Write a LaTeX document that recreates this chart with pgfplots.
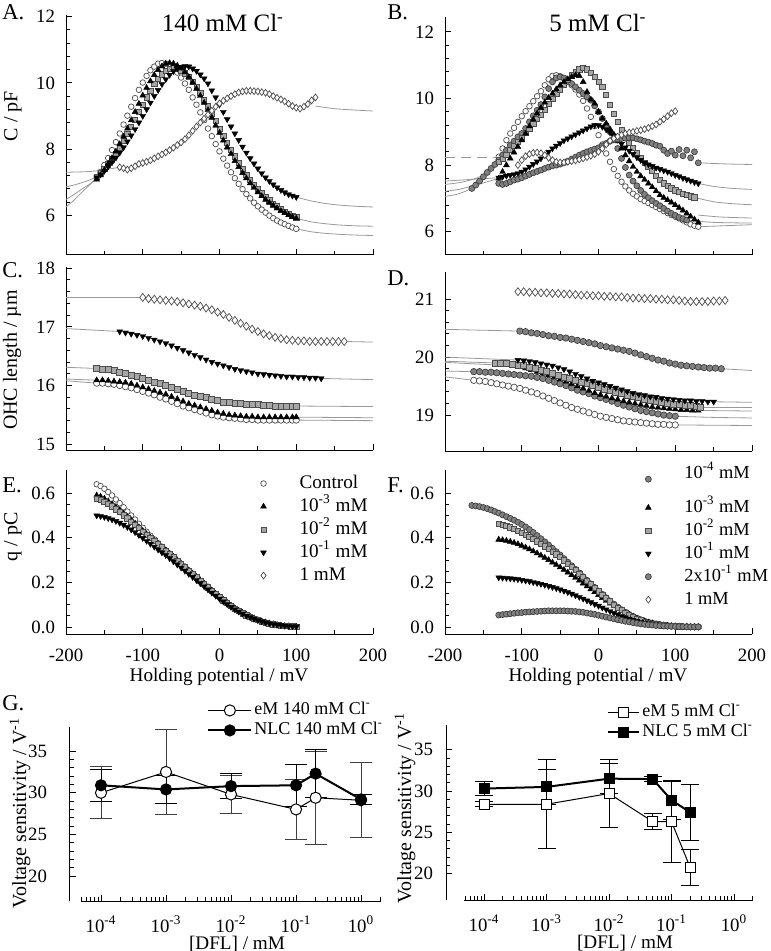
\documentclass[border=0pt]{standalone}
\usepackage{fontspec}
\setmainfont{Liberation Serif}
\usepackage{pgfplots}
\pgfplotsset{compat=1.18}
\pgfplotsset{
  base/.style={scale only axis, axis x line*=bottom, axis y line*=left,
    axis line style={-, line width=0.5pt}, tick align=inside,
    major tick length=3pt, minor tick length=1.8pt,
    tick style={black, line width=0.5pt},
    /pgf/number format/assume math mode=true,
    tick label style={font=\fontsize{9.4}{11}\selectfont},
    yticklabel style={xshift=-2pt}, clip=false},
  volt/.style={base, xmin=-200, xmax=200, xtick={-200,-100,0,100,200},
    minor x tick num=1, width=153.5pt},
  mk/.style={legend image code/.code={\draw[##1] plot coordinates {(6pt,0pt)}; \path[draw=none,fill=none] (0pt,0pt) (23pt,0pt);}},
  ctrl/.style={only marks, mark=*, mark size=1.4pt, mark options={fill=white, draw=black!70, line width=0.35pt}, mk},
  tri/.style={only marks, mark=triangle*, mark size=1.7pt, mark options={fill=black, draw=black, line width=0.2pt}, mk},
  sq/.style={only marks, mark=square*, mark size=1.3pt, mark options={fill=black!35, draw=black!70, line width=0.35pt}, mk},
  itri/.style={only marks, mark=triangle*, mark size=1.7pt, mark options={fill=black, draw=black, rotate=180, line width=0.2pt}, mk},
  dia/.style={only marks, mark=diamond*, mark size=1.7pt, mark options={fill=white, draw=black!70, line width=0.35pt}, mk},
  gc/.style={only marks, mark=*, mark size=1.5pt, mark options={fill=black!50, draw=black!75, line width=0.35pt}, mk},
  fit/.style={no markers, black!40, line width=0.4pt, smooth},
  mleg/.style={legend cell align=left,
    legend style={draw=none, fill=none, inner sep=0pt, row sep=0pt,
      nodes={inner sep=1pt, text height=7pt, text depth=2.5pt}}},
}
\begin{document}
\begin{tikzpicture}
\useasboundingbox (0,0) rectangle (385pt,-475.5pt);

% ---------------- A ----------------
\begin{axis}[volt, at={(33pt,-127.5pt)}, anchor=south west, height=120pt,
  ymin=4.8, ymax=12.05, ytick={6,8,10,12}, minor y tick num=4, xticklabels={}]
\addplot[fit] coordinates {(-200,6.25)(-190,6.45)(-180,6.68)(-170,6.9)(-160,7.13)};
\addplot[fit] coordinates {(-200,6.48)(-190,6.62)(-180,6.78)(-170,6.93)(-160,7.08)};
\addplot[fit] coordinates {(-200,6.86)(-190,6.91)(-180,6.98)(-170,7.06)(-160,7.16)};
\addplot[fit] coordinates {(-200,7.3)(-165,7.33)(-130,7.45)};
\addplot[fit] coordinates {(100,5.59)(120,5.5)(140,5.45)(160,5.42)(180,5.4)(200,5.39)};
\addplot[fit] coordinates {(100,5.91)(120,5.8)(140,5.74)(160,5.7)(180,5.68)(200,5.67)};
\addplot[fit] coordinates {(100,6.55)(120,6.43)(140,6.35)(160,6.3)(180,6.27)(200,6.25)};
\addplot[fit] coordinates {(125,9.3)(150,9.22)(175,9.18)(200,9.15)};
\addplot[ctrl] coordinates {(-160,7.13)(-155,7.31)(-150,7.52)(-145,7.73)(-140,7.97)(-135,8.21)(-130,8.47)(-125,8.74)(-120,9.01)(-115,9.28)(-110,9.54)(-105,9.79)(-100,10.01)(-95,10.21)(-90,10.38)(-85,10.49)(-80,10.58)(-75,10.60)(-70,10.58)(-65,10.52)(-60,10.43)(-55,10.31)(-50,10.16)(-45,9.98)(-40,9.79)(-35,9.56)(-30,9.34)(-25,9.11)(-20,8.87)(-15,8.62)(-10,8.39)(-5,8.15)(0,7.93)(5,7.71)(10,7.50)(15,7.30)(20,7.12)(25,6.95)(30,6.79)(35,6.64)(40,6.51)(45,6.38)(50,6.27)(55,6.17)(60,6.08)(65,5.99)(70,5.91)(75,5.84)(80,5.78)(85,5.73)(90,5.68)(95,5.63)(100,5.59)};
\addplot[sq] coordinates {(-160,7.16)(-155,7.27)(-150,7.40)(-145,7.54)(-140,7.69)(-135,7.86)(-130,8.04)(-125,8.24)(-120,8.45)(-115,8.67)(-110,8.89)(-105,9.12)(-100,9.34)(-95,9.56)(-90,9.77)(-85,9.96)(-80,10.12)(-75,10.26)(-70,10.36)(-65,10.43)(-60,10.45)(-55,10.44)(-50,10.38)(-45,10.29)(-40,10.18)(-35,10.04)(-30,9.88)(-25,9.70)(-20,9.49)(-15,9.29)(-10,9.07)(-5,8.85)(0,8.62)(5,8.40)(10,8.18)(15,7.98)(20,7.78)(25,7.58)(30,7.40)(35,7.23)(40,7.07)(45,6.93)(50,6.79)(55,6.66)(60,6.55)(65,6.45)(70,6.35)(75,6.27)(80,6.19)(85,6.11)(90,6.05)(95,5.99)(100,5.94)};
\addplot[tri] coordinates {(-160,7.08)(-155,7.21)(-150,7.37)(-145,7.55)(-140,7.73)(-135,7.93)(-130,8.15)(-125,8.38)(-120,8.62)(-115,8.87)(-110,9.12)(-105,9.37)(-100,9.62)(-95,9.85)(-90,10.05)(-85,10.24)(-80,10.39)(-75,10.50)(-70,10.58)(-65,10.60)(-60,10.58)(-55,10.52)(-50,10.44)(-45,10.32)(-40,10.18)(-35,10.01)(-30,9.82)(-25,9.61)(-20,9.40)(-15,9.18)(-10,8.95)(-5,8.71)(0,8.49)(5,8.26)(10,8.05)(15,7.85)(20,7.64)(25,7.46)(30,7.28)(35,7.12)(40,6.97)(45,6.83)(50,6.70)(55,6.58)(60,6.47)(65,6.38)(70,6.29)(75,6.21)(80,6.13)(85,6.07)(90,6.01)(95,5.95)(100,5.91)};
\addplot[itri] coordinates {(-160,7.14)(-155,7.23)(-150,7.34)(-145,7.47)(-140,7.60)(-135,7.74)(-130,7.89)(-125,8.05)(-120,8.23)(-115,8.41)(-110,8.60)(-105,8.80)(-100,9.00)(-95,9.20)(-90,9.40)(-85,9.60)(-80,9.78)(-75,9.96)(-70,10.11)(-65,10.24)(-60,10.35)(-55,10.43)(-50,10.48)(-45,10.50)(-40,10.49)(-35,10.43)(-30,10.36)(-25,10.25)(-20,10.13)(-15,9.98)(-10,9.77)(-5,9.56)(0,9.34)(5,9.12)(10,8.90)(15,8.68)(20,8.47)(25,8.27)(30,8.07)(35,7.89)(40,7.72)(45,7.56)(50,7.41)(55,7.27)(60,7.14)(65,7.03)(70,6.93)(75,6.84)(80,6.76)(85,6.69)(90,6.63)(95,6.59)(100,6.55)};
\addplot[dia] coordinates {(-130,7.45)(-125,7.42)(-120,7.38)(-115,7.42)(-110,7.48)(-105,7.55)(-100,7.58)(-95,7.62)(-90,7.66)(-85,7.72)(-80,7.78)(-75,7.84)(-70,7.9)(-65,7.97)(-60,8.04)(-55,8.12)(-50,8.2)(-45,8.3)(-40,8.42)(-35,8.55)(-30,8.68)(-25,8.8)(-20,8.92)(-15,9.04)(-10,9.16)(-5,9.28)(0,9.38)(5,9.46)(10,9.53)(15,9.6)(20,9.66)(25,9.71)(30,9.74)(35,9.76)(40,9.76)(45,9.75)(50,9.74)(55,9.72)(60,9.7)(65,9.66)(70,9.6)(75,9.55)(80,9.5)(85,9.44)(90,9.37)(95,9.3)(100,9.25)(105,9.22)(110,9.28)(115,9.36)(120,9.47)(125,9.56)};
\end{axis}

% ---------------- B ----------------
\begin{axis}[volt, at={(222.5pt,-127.5pt)}, anchor=south west, height=119pt,
  ymin=5.3, ymax=12.45, ytick={6,8,10,12}, minor y tick num=4, xticklabels={}]
\addplot[fit, dash pattern=on 5pt off 3pt] coordinates {(-200,8.22)(-130,8.22)};
\addplot[fit] coordinates {(-200,7.06)(-185,7.12)(-175,7.2)(-165,7.3)};
\addplot[fit] coordinates {(-200,7.21)(-180,7.28)(-160,7.4)(-145,7.5)(-130,7.6)};
\addplot[fit] coordinates {(-200,7.42)(-180,7.48)(-160,7.6)(-145,7.78)(-130,8.1)};
\addplot[fit] coordinates {(-200,7.52)(-180,7.55)(-160,7.58)(-130,7.62)};
\addplot[fit] coordinates {(130,8.07)(150,8.05)(175,8.03)(200,8.02)};
\addplot[fit] coordinates {(130,7.45)(150,7.36)(175,7.3)(200,7.27)};
\addplot[fit] coordinates {(125,7.03)(150,6.9)(175,6.84)(200,6.81)};
\addplot[fit] coordinates {(130,6.5)(160,6.44)(200,6.41)};
\addplot[fit] coordinates {(115,6.35)(150,6.28)(200,6.26)};
\addplot[fit] coordinates {(130,6.15)(165,6.18)(200,6.21)};
\addplot[ctrl] coordinates {(-130,8.25)(-125,8.5)(-120,8.75)(-115,8.95)(-110,9.12)(-105,9.3)(-100,9.47)(-95,9.62)(-90,9.77)(-85,9.92)(-80,10.07)(-75,10.22)(-70,10.4)(-65,10.58)(-60,10.68)(-55,10.7)(-50,10.67)(-45,10.6)(-40,10.5)(-35,10.4)(-30,10.27)(-25,10.12)(-20,9.93)(-15,9.7)(-10,9.45)(-5,9.17)(0,8.9)(5,8.62)(10,8.35)(15,8.1)(20,7.88)(25,7.68)(30,7.5)(35,7.36)(40,7.24)(45,7.14)(50,7.06)(55,6.98)(60,6.92)(65,6.86)(70,6.8)(75,6.74)(80,6.68)(85,6.62)(90,6.56)(95,6.5)(100,6.45)(105,6.4)(110,6.34)(115,6.28)(120,6.22)(125,6.18)(130,6.15)};
\addplot[gc] coordinates {(-165,7.3)(-160,7.4)(-155,7.52)(-150,7.65)(-145,7.78)(-140,7.9)(-135,8.02)(-130,8.15)(-125,8.3)(-120,8.45)(-115,8.6)(-110,8.72)(-105,8.85)(-100,8.95)(-95,9.1)(-90,9.3)(-85,9.48)(-80,9.65)(-75,9.82)(-70,10.05)(-65,10.3)(-60,10.5)(-55,10.62)(-50,10.65)(-45,10.62)(-40,10.55)(-35,10.45)(-30,10.35)(-25,10.25)(-20,10.15)(-15,10.05)(-10,9.95)(-5,9.78)(0,9.6)(5,9.4)(10,9.2)(15,9.0)(20,8.78)(25,8.5)(30,8.2)(35,7.93)(40,7.7)(45,7.52)(50,7.38)(55,7.24)(60,7.12)(65,7.02)(70,6.93)(75,6.85)(80,6.78)(85,6.7)(90,6.62)(95,6.55)(100,6.49)(105,6.43)(110,6.39)(115,6.35)};
\addplot[sq] coordinates {(-130,8.1)(-125,8.2)(-120,8.32)(-115,8.45)(-110,8.58)(-105,8.7)(-100,8.83)(-95,8.97)(-90,9.1)(-85,9.24)(-80,9.38)(-75,9.52)(-70,9.67)(-65,9.83)(-60,9.98)(-55,10.13)(-50,10.27)(-45,10.42)(-40,10.57)(-35,10.7)(-30,10.8)(-25,10.88)(-20,10.92)(-15,10.88)(-10,10.78)(-5,10.65)(0,10.5)(5,10.35)(10,10.1)(15,9.82)(20,9.55)(25,9.3)(30,9.05)(35,8.85)(40,8.68)(45,8.52)(50,8.37)(55,8.22)(60,8.08)(65,7.95)(70,7.82)(75,7.68)(80,7.55)(85,7.45)(90,7.37)(95,7.3)(100,7.24)(105,7.19)(110,7.14)(115,7.1)(120,7.06)(125,7.03)};
\addplot[tri] coordinates {(-130,7.6)(-125,7.8)(-120,8.0)(-115,8.2)(-110,8.38)(-105,8.55)(-100,8.75)(-95,8.95)(-90,9.17)(-85,9.37)(-80,9.55)(-75,9.72)(-70,9.88)(-65,10.02)(-60,10.15)(-55,10.28)(-50,10.4)(-45,10.5)(-40,10.58)(-35,10.65)(-30,10.7)(-25,10.68)(-20,10.5)(-15,10.2)(-10,9.97)(-5,9.85)(0,9.6)(5,9.4)(10,9.25)(15,9.08)(20,8.92)(25,8.72)(30,8.5)(35,8.3)(40,8.12)(45,7.95)(50,7.8)(55,7.67)(60,7.56)(65,7.45)(70,7.34)(75,7.22)(80,7.1)(85,7.02)(90,6.95)(95,6.88)(100,6.8)(105,6.72)(110,6.64)(115,6.55)(120,6.46)(125,6.37)(130,6.28)};
\addplot[itri] coordinates {(-130,7.62)(-125,7.65)(-120,7.68)(-115,7.7)(-110,7.72)(-105,7.75)(-100,7.8)(-95,7.87)(-90,7.95)(-85,8.03)(-80,8.11)(-75,8.2)(-70,8.3)(-65,8.4)(-60,8.5)(-55,8.58)(-50,8.66)(-45,8.74)(-40,8.8)(-35,8.86)(-30,8.92)(-25,8.98)(-20,9.04)(-15,9.1)(-10,9.16)(-5,9.2)(0,9.2)(5,9.15)(10,9.07)(15,8.98)(20,8.88)(25,8.76)(30,8.64)(35,8.53)(40,8.43)(45,8.33)(50,8.23)(55,8.15)(60,8.07)(65,8.02)(70,7.97)(75,7.92)(80,7.88)(85,7.84)(90,7.8)(95,7.75)(100,7.7)(105,7.66)(110,7.61)(115,7.57)(120,7.53)(125,7.49)(130,7.45)};
\addplot[gc] coordinates {(-130,7.45)(-125,7.42)(-120,7.45)(-115,7.5)(-110,7.55)(-105,7.58)(-100,7.62)(-95,7.67)(-90,7.72)(-85,7.77)(-80,7.81)(-75,7.85)(-70,7.9)(-65,7.94)(-60,7.98)(-55,8.0)(-50,8.03)(-45,8.07)(-40,8.12)(-35,8.18)(-30,8.24)(-25,8.3)(-20,8.35)(-15,8.4)(-10,8.44)(-5,8.48)(0,8.52)(5,8.58)(10,8.65)(15,8.72)(20,8.76)(25,8.78)(30,8.8)(35,8.81)(40,8.82)(45,8.82)(50,8.79)(55,8.76)(60,8.72)(65,8.69)(70,8.65)(75,8.6)(80,8.57)(85,8.45)(90,8.35)(95,8.42)(100,8.3)(105,8.47)(110,8.28)(115,8.45)(120,8.22)(125,8.4)(130,8.07)};
\addplot[dia] coordinates {(-105,8.0)(-100,8.15)(-95,8.27)(-90,8.33)(-85,8.37)(-80,8.38)(-75,8.36)(-70,8.3)(-65,8.22)(-60,8.15)(-55,8.1)(-50,8.08)(-45,8.08)(-40,8.1)(-35,8.12)(-30,8.14)(-25,8.17)(-20,8.2)(-15,8.24)(-10,8.28)(-5,8.33)(0,8.4)(5,8.5)(10,8.62)(15,8.73)(20,8.8)(25,8.86)(30,8.91)(35,8.95)(40,8.98)(45,9.0)(50,9.03)(55,9.05)(60,9.08)(65,9.12)(70,9.17)(75,9.22)(80,9.3)(85,9.38)(90,9.47)(95,9.56)(100,9.62)};
\end{axis}

% ---------------- C ----------------
\begin{axis}[volt, at={(33pt,-225pt)}, anchor=south west, height=91.5pt,
  ymin=14.9, ymax=18.02, ytick={15,16,17,18}, minor y tick num=4, xticklabels={}]
\addplot[fit] coordinates {(-200,17.5)(-100,17.5)};
\addplot[fit] coordinates {(162.5,16.75)(200,16.74)};
\addplot[fit] coordinates {(-200,16.97)(-130,16.92)};
\addplot[fit] coordinates {(132.5,16.12)(200,16.1)};
\addplot[fit] coordinates {(-200,16.31)(-160,16.29)};
\addplot[fit] coordinates {(100,15.65)(200,15.64)};
\addplot[fit] coordinates {(-200,16.11)(-160,16.09)};
\addplot[fit] coordinates {(100,15.46)(200,15.45)};
\addplot[fit] coordinates {(-200,16.08)(-160,16.04)};
\addplot[fit] coordinates {(100,15.41)(200,15.4)};
\addplot[ctrl, mark size=1.6pt] coordinates {(-160,16.04)(-152.5,16.04)(-145,16.03)(-137.5,16.02)(-130,16.0)(-122.5,15.98)(-115,15.96)(-107.5,15.93)(-100,15.9)(-92.5,15.87)(-85,15.84)(-77.5,15.8)(-70,15.77)(-62.5,15.73)(-55,15.69)(-47.5,15.65)(-40,15.62)(-32.5,15.59)(-25,15.56)(-17.5,15.53)(-10,15.5)(-2.5,15.48)(5,15.46)(12.5,15.45)(20,15.44)(27.5,15.43)(35,15.42)(42.5,15.42)(50,15.41)(57.5,15.41)(65,15.41)(72.5,15.41)(80,15.41)(87.5,15.41)(95,15.41)(100,15.41)};
\addplot[tri] coordinates {(-160,16.09)(-152.5,16.09)(-145,16.08)(-137.5,16.07)(-130,16.06)(-122.5,16.05)(-115,16.03)(-107.5,16.0)(-100,15.97)(-92.5,15.94)(-85,15.91)(-77.5,15.88)(-70,15.85)(-62.5,15.81)(-55,15.77)(-47.5,15.73)(-40,15.69)(-32.5,15.66)(-25,15.63)(-17.5,15.6)(-10,15.57)(-2.5,15.54)(5,15.52)(12.5,15.5)(20,15.49)(27.5,15.48)(35,15.47)(42.5,15.47)(50,15.46)(57.5,15.46)(65,15.46)(72.5,15.46)(80,15.46)(87.5,15.46)(95,15.46)(100,15.46)};
\addplot[sq, mark size=1.5pt] coordinates {(-160,16.29)(-152.5,16.28)(-145,16.27)(-137.5,16.25)(-130,16.23)(-122.5,16.21)(-115,16.18)(-107.5,16.15)(-100,16.12)(-92.5,16.09)(-85,16.06)(-77.5,16.03)(-70,16.0)(-62.5,15.97)(-55,15.94)(-47.5,15.9)(-40,15.87)(-32.5,15.84)(-25,15.81)(-17.5,15.79)(-10,15.76)(-2.5,15.74)(5,15.72)(12.5,15.71)(20,15.7)(27.5,15.69)(35,15.68)(42.5,15.67)(50,15.67)(57.5,15.66)(65,15.66)(72.5,15.65)(80,15.65)(87.5,15.65)(95,15.65)(100,15.65)};
\addplot[itri] coordinates {(-130,16.92)(-122.5,16.9)(-115,16.88)(-107.5,16.86)(-100,16.84)(-92.5,16.81)(-85,16.78)(-77.5,16.75)(-70,16.72)(-62.5,16.68)(-55,16.64)(-47.5,16.6)(-40,16.56)(-32.5,16.52)(-25,16.48)(-17.5,16.44)(-10,16.4)(-2.5,16.37)(5,16.34)(12.5,16.31)(20,16.28)(27.5,16.26)(35,16.24)(42.5,16.22)(50,16.2)(57.5,16.19)(65,16.18)(72.5,16.17)(80,16.16)(87.5,16.15)(95,16.15)(102.5,16.14)(110,16.14)(117.5,16.13)(125,16.13)(132.5,16.12)};
\addplot[dia, mark size=2pt] coordinates {(-100,17.5)(-92.5,17.48)(-85,17.47)(-77.5,17.46)(-70,17.45)(-62.5,17.44)(-55,17.43)(-47.5,17.41)(-40,17.39)(-32.5,17.37)(-25,17.35)(-17.5,17.32)(-10,17.29)(-2.5,17.25)(5,17.21)(12.5,17.16)(20,17.11)(27.5,17.06)(35,17.01)(42.5,16.96)(50,16.92)(57.5,16.88)(65,16.85)(72.5,16.82)(80,16.8)(87.5,16.78)(95,16.77)(102.5,16.76)(110,16.76)(117.5,16.75)(125,16.75)(132.5,16.75)(140,16.75)(147.5,16.75)(155,16.75)(162.5,16.75)};
\end{axis}

% ---------------- D ----------------
\begin{axis}[volt, at={(222.5pt,-225.5pt)}, anchor=south west, height=89.5pt,
  ymin=18.38, ymax=21.47, ytick={19,20,21}, minor y tick num=4, xticklabels={}]
\addplot[fit] coordinates {(-200,20.48)(-102.5,20.45)};
\addplot[fit] coordinates {(160,19.8)(200,19.77)};
\addplot[fit] coordinates {(-200,20.0)(-105,19.95)};
\addplot[fit] coordinates {(150,19.23)(200,19.22)};
\addplot[fit] coordinates {(-200,19.93)(-135,19.9)};
\addplot[fit] coordinates {(132.5,19.14)(200,19.14)};
\addplot[fit] coordinates {(-200,19.91)(-110,19.85)};
\addplot[fit] coordinates {(130,19.08)(200,19.07)};
\addplot[fit] coordinates {(-200,19.76)(-162.5,19.75)};
\addplot[fit] coordinates {(100,18.98)(150,18.96)(200,18.95)};
\addplot[fit] coordinates {(-200,19.66)(-162.5,19.6)};
\addplot[fit] coordinates {(100,18.83)(200,18.82)};
\addplot[ctrl, mark size=1.6pt] coordinates {(-162.5,19.6)(-155,19.59)(-147.5,19.58)(-140,19.56)(-132.5,19.54)(-125,19.52)(-117.5,19.5)(-110,19.48)(-102.5,19.46)(-95,19.43)(-87.5,19.4)(-80,19.37)(-72.5,19.33)(-65,19.29)(-57.5,19.25)(-50,19.21)(-42.5,19.17)(-35,19.13)(-27.5,19.1)(-20,19.07)(-12.5,19.04)(-5,19.01)(2.5,18.98)(10,18.96)(17.5,18.94)(25,18.92)(32.5,18.9)(40,18.89)(47.5,18.88)(55,18.87)(62.5,18.86)(70,18.85)(77.5,18.84)(85,18.84)(92.5,18.83)(100,18.83)};
\addplot[gc, mark size=1.6pt] coordinates {(-162.5,19.75)(-155,19.75)(-147.5,19.74)(-140,19.74)(-132.5,19.73)(-125,19.72)(-117.5,19.71)(-110,19.7)(-102.5,19.69)(-95,19.68)(-87.5,19.67)(-80,19.65)(-72.5,19.63)(-65,19.6)(-57.5,19.57)(-50,19.54)(-42.5,19.51)(-35,19.47)(-27.5,19.43)(-20,19.4)(-12.5,19.37)(-5,19.33)(2.5,19.3)(10,19.27)(17.5,19.24)(25,19.2)(32.5,19.17)(40,19.14)(47.5,19.11)(55,19.08)(62.5,19.06)(70,19.04)(77.5,19.02)(85,19.0)(92.5,18.99)(100,18.98)};
\addplot[tri] coordinates {(-110,19.85)(-102.5,19.83)(-95,19.81)(-87.5,19.78)(-80,19.75)(-72.5,19.72)(-65,19.69)(-57.5,19.66)(-50,19.62)(-42.5,19.58)(-35,19.54)(-27.5,19.5)(-20,19.46)(-12.5,19.42)(-5,19.38)(2.5,19.35)(10,19.32)(17.5,19.29)(25,19.27)(32.5,19.24)(40,19.22)(47.5,19.2)(55,19.18)(62.5,19.16)(70,19.14)(77.5,19.13)(85,19.12)(92.5,19.11)(100,19.1)(107.5,19.09)(115,19.09)(122.5,19.08)(130,19.08)};
\addplot[sq, mark size=1.5pt] coordinates {(-135,19.9)(-127.5,19.9)(-120,19.89)(-112.5,19.88)(-105,19.86)(-97.5,19.85)(-90,19.83)(-82.5,19.81)(-75,19.78)(-67.5,19.75)(-60,19.72)(-52.5,19.69)(-45,19.66)(-37.5,19.63)(-30,19.6)(-22.5,19.57)(-15,19.54)(-7.5,19.51)(0,19.48)(7.5,19.45)(15,19.42)(22.5,19.39)(30,19.37)(37.5,19.34)(45,19.32)(52.5,19.3)(60,19.28)(67.5,19.26)(75,19.24)(82.5,19.22)(90,19.2)(97.5,19.19)(105,19.18)(112.5,19.17)(120,19.16)(127.5,19.15)(132.5,19.14)};
\addplot[itri] coordinates {(-105,19.95)(-97.5,19.94)(-90,19.93)(-82.5,19.91)(-75,19.89)(-67.5,19.87)(-60,19.85)(-52.5,19.82)(-45,19.79)(-37.5,19.75)(-30,19.71)(-22.5,19.67)(-15,19.63)(-7.5,19.59)(0,19.56)(7.5,19.53)(15,19.5)(22.5,19.47)(30,19.44)(37.5,19.41)(45,19.38)(52.5,19.36)(60,19.34)(67.5,19.32)(75,19.31)(82.5,19.29)(90,19.28)(97.5,19.27)(105,19.26)(112.5,19.25)(120,19.25)(127.5,19.24)(135,19.24)(142.5,19.23)(150,19.23)};
\addplot[gc, mark size=1.6pt] coordinates {(-102.5,20.45)(-95,20.44)(-87.5,20.42)(-80,20.41)(-72.5,20.39)(-65,20.37)(-57.5,20.36)(-50,20.34)(-42.5,20.33)(-35,20.31)(-27.5,20.29)(-20,20.27)(-12.5,20.25)(-5,20.23)(2.5,20.2)(10,20.18)(17.5,20.16)(25,20.14)(32.5,20.12)(40,20.1)(47.5,20.07)(55,20.04)(62.5,20.01)(70,19.98)(77.5,19.95)(85,19.93)(92.5,19.9)(100,19.88)(107.5,19.86)(115,19.85)(122.5,19.84)(130,19.83)(137.5,19.82)(145,19.81)(152.5,19.81)(160,19.8)};
\addplot[dia, mark size=2pt] coordinates {(-105,21.13)(-97.5,21.13)(-90,21.12)(-82.5,21.12)(-75,21.11)(-67.5,21.11)(-60,21.1)(-52.5,21.1)(-45,21.09)(-37.5,21.09)(-30,21.08)(-22.5,21.07)(-15,21.07)(-7.5,21.06)(0,21.06)(7.5,21.05)(15,21.05)(22.5,21.04)(30,21.04)(37.5,21.03)(45,21.02)(52.5,21.02)(60,21.01)(67.5,21.01)(75,21.0)(82.5,21.0)(90,20.99)(97.5,20.99)(105,20.98)(112.5,20.97)(120,20.96)(127.5,20.96)(135,20.96)(142.5,20.96)(150,20.97)(157.5,20.97)(165,20.98)};
\end{axis}

% ---------------- E ----------------
\begin{axis}[volt, mleg, at={(33pt,-317pt)}, anchor=south west, height=82pt,
  ymin=-0.031, ymax=0.704, ytick={0,0.2,0.4,0.6}, minor y tick num=3,
  yticklabel style={/pgf/number format/.cd, fixed, fixed zerofill, precision=1},
  xticklabel style={yshift=-4pt},
  legend style={at={(0.603,0.99)}, anchor=north west, font=\fontsize{9.6}{11}\selectfont}]
\addplot[ctrl] coordinates {(-160,0.64)(-155,0.632)(-150,0.62)(-145,0.605)(-140,0.59)(-135,0.572)(-130,0.555)(-125,0.537)(-120,0.518)(-115,0.5)(-110,0.482)(-105,0.463)(-100,0.445)(-95,0.427)(-90,0.41)(-85,0.393)(-80,0.376)(-75,0.36)(-70,0.344)(-65,0.328)(-60,0.312)(-55,0.296)(-50,0.28)(-45,0.265)(-40,0.25)(-35,0.235)(-30,0.22)(-25,0.205)(-20,0.19)(-15,0.175)(-10,0.16)(-5,0.146)(0,0.132)(5,0.118)(10,0.105)(15,0.093)(20,0.082)(25,0.071)(30,0.061)(35,0.052)(40,0.044)(45,0.037)(50,0.031)(55,0.025)(60,0.02)(65,0.016)(70,0.012)(75,0.009)(80,0.007)(85,0.005)(90,0.003)(95,0.002)(100,0.001)};
\addlegendentry{Control}
\addplot[tri] coordinates {(-160,0.59)(-155,0.585)(-150,0.576)(-145,0.564)(-140,0.552)(-135,0.538)(-130,0.524)(-125,0.509)(-120,0.494)(-115,0.479)(-110,0.464)(-105,0.448)(-100,0.432)(-95,0.417)(-90,0.402)(-85,0.387)(-80,0.372)(-75,0.358)(-70,0.345)(-65,0.33)(-60,0.315)(-55,0.3)(-50,0.285)(-45,0.27)(-40,0.255)(-35,0.24)(-30,0.225)(-25,0.21)(-20,0.195)(-15,0.18)(-10,0.165)(-5,0.15)(0,0.136)(5,0.122)(10,0.109)(15,0.097)(20,0.085)(25,0.074)(30,0.064)(35,0.055)(40,0.046)(45,0.039)(50,0.032)(55,0.026)(60,0.021)(65,0.017)(70,0.013)(75,0.01)(80,0.007)(85,0.005)(90,0.004)(95,0.003)(100,0.002)};
\addlegendentry{10\textsuperscript{-3} mM}
\addplot[sq] coordinates {(-160,0.575)(-155,0.57)(-150,0.562)(-145,0.552)(-140,0.541)(-135,0.528)(-130,0.515)(-125,0.501)(-120,0.487)(-115,0.473)(-110,0.458)(-105,0.443)(-100,0.428)(-95,0.413)(-90,0.399)(-85,0.385)(-80,0.371)(-75,0.357)(-70,0.343)(-65,0.328)(-60,0.313)(-55,0.298)(-50,0.283)(-45,0.268)(-40,0.253)(-35,0.238)(-30,0.223)(-25,0.208)(-20,0.193)(-15,0.178)(-10,0.163)(-5,0.148)(0,0.134)(5,0.12)(10,0.107)(15,0.095)(20,0.083)(25,0.072)(30,0.062)(35,0.053)(40,0.045)(45,0.038)(50,0.031)(55,0.025)(60,0.02)(65,0.016)(70,0.012)(75,0.009)(80,0.007)(85,0.005)(90,0.004)(95,0.003)(100,0.002)};
\addlegendentry{10\textsuperscript{-2} mM}
\addplot[itri] coordinates {(-160,0.5)(-155,0.497)(-150,0.493)(-145,0.488)(-140,0.482)(-135,0.475)(-130,0.467)(-125,0.458)(-120,0.448)(-115,0.437)(-110,0.425)(-105,0.412)(-100,0.399)(-95,0.386)(-90,0.373)(-85,0.36)(-80,0.347)(-75,0.334)(-70,0.322)(-65,0.308)(-60,0.294)(-55,0.28)(-50,0.266)(-45,0.252)(-40,0.238)(-35,0.224)(-30,0.21)(-25,0.196)(-20,0.182)(-15,0.168)(-10,0.154)(-5,0.14)(0,0.127)(5,0.114)(10,0.102)(15,0.09)(20,0.079)(25,0.069)(30,0.06)(35,0.051)(40,0.044)(45,0.037)(50,0.031)(55,0.025)(60,0.02)(65,0.016)(70,0.013)(75,0.01)(80,0.008)(85,0.006)(90,0.004)(95,0.003)(100,0.002)};
\addlegendentry{10\textsuperscript{-1} mM}
\addlegendimage{dia}
\addlegendentry{1 mM}
\end{axis}

% ---------------- F ----------------
\begin{axis}[volt, mleg, at={(222.5pt,-317pt)}, anchor=south west, height=82pt,
  ymin=-0.031, ymax=0.704, ytick={0,0.2,0.4,0.6}, minor y tick num=3,
  yticklabel style={/pgf/number format/.cd, fixed, fixed zerofill, precision=1},
  xticklabel style={yshift=-4pt},
  legend style={at={(0.622,1.05)}, anchor=north west, font=\fontsize{9.2}{11}\selectfont}]
\addplot[gc] coordinates {(-165,0.545)(-160,0.543)(-155,0.54)(-150,0.536)(-145,0.531)(-140,0.525)(-135,0.518)(-130,0.511)(-125,0.503)(-120,0.495)(-115,0.487)(-110,0.479)(-105,0.47)(-100,0.46)(-95,0.449)(-90,0.437)(-85,0.424)(-80,0.41)(-75,0.396)(-70,0.382)(-65,0.368)(-60,0.353)(-55,0.338)(-50,0.323)(-45,0.307)(-40,0.291)(-35,0.275)(-30,0.259)(-25,0.243)(-20,0.226)(-15,0.21)(-10,0.194)(-5,0.178)(0,0.162)(5,0.147)(10,0.132)(15,0.117)(20,0.103)(25,0.09)(30,0.078)(35,0.067)(40,0.057)(45,0.048)(50,0.04)(55,0.033)(60,0.027)(65,0.022)(70,0.018)(75,0.014)(80,0.011)(85,0.009)(90,0.007)(95,0.005)(100,0.004)(105,0.003)(110,0.002)(115,0.002)(120,0.001)(125,0.001)(130,0.001)};
\addlegendentry[text depth=8pt]{10\textsuperscript{-4} mM}
\addplot[tri] coordinates {(-130,0.392)(-125,0.39)(-120,0.387)(-115,0.383)(-110,0.378)(-105,0.372)(-100,0.365)(-95,0.357)(-90,0.349)(-85,0.34)(-80,0.331)(-75,0.321)(-70,0.311)(-65,0.301)(-60,0.29)(-55,0.279)(-50,0.268)(-45,0.257)(-40,0.245)(-35,0.233)(-30,0.221)(-25,0.209)(-20,0.196)(-15,0.183)(-10,0.17)(-5,0.157)(0,0.144)(5,0.131)(10,0.118)(15,0.106)(20,0.094)(25,0.083)(30,0.072)(35,0.062)(40,0.053)(45,0.045)(50,0.038)(55,0.031)(60,0.026)(65,0.021)(70,0.017)(75,0.013)(80,0.01)(85,0.008)(90,0.006)(95,0.005)(100,0.004)(105,0.003)(110,0.002)(115,0.002)(120,0.001)(125,0.001)(130,0.001)};
\addlegendentry{10\textsuperscript{-3} mM}
\addplot[sq] coordinates {(-130,0.462)(-125,0.458)(-120,0.453)(-115,0.447)(-110,0.44)(-105,0.432)(-100,0.424)(-95,0.415)(-90,0.405)(-85,0.395)(-80,0.384)(-75,0.373)(-70,0.362)(-65,0.35)(-60,0.338)(-55,0.326)(-50,0.313)(-45,0.299)(-40,0.285)(-35,0.27)(-30,0.255)(-25,0.24)(-20,0.224)(-15,0.208)(-10,0.192)(-5,0.176)(0,0.16)(5,0.145)(10,0.13)(15,0.115)(20,0.101)(25,0.088)(30,0.076)(35,0.065)(40,0.055)(45,0.046)(50,0.038)(55,0.031)(60,0.025)(65,0.02)(70,0.016)(75,0.013)(80,0.01)(85,0.008)(90,0.006)(95,0.005)(100,0.004)(105,0.003)(110,0.002)(115,0.002)(120,0.001)(125,0.001)};
\addlegendentry{10\textsuperscript{-2} mM}
\addplot[itri] coordinates {(-130,0.222)(-125,0.221)(-120,0.22)(-115,0.218)(-110,0.216)(-105,0.214)(-100,0.211)(-95,0.208)(-90,0.205)(-85,0.201)(-80,0.197)(-75,0.193)(-70,0.189)(-65,0.184)(-60,0.179)(-55,0.174)(-50,0.168)(-45,0.162)(-40,0.156)(-35,0.149)(-30,0.142)(-25,0.135)(-20,0.127)(-15,0.119)(-10,0.111)(-5,0.103)(0,0.095)(5,0.087)(10,0.079)(15,0.071)(20,0.063)(25,0.056)(30,0.049)(35,0.043)(40,0.037)(45,0.032)(50,0.027)(55,0.023)(60,0.019)(65,0.016)(70,0.013)(75,0.011)(80,0.009)(85,0.007)(90,0.006)(95,0.005)(100,0.004)(105,0.003)(110,0.002)(115,0.002)(120,0.001)(125,0.001)(130,0.001)};
\addlegendentry{10\textsuperscript{-1} mM}
\addplot[gc] coordinates {(-130,0.054)(-125,0.056)(-120,0.058)(-115,0.06)(-110,0.062)(-105,0.064)(-100,0.065)(-95,0.067)(-90,0.068)(-85,0.069)(-80,0.07)(-75,0.071)(-70,0.072)(-65,0.073)(-60,0.073)(-55,0.073)(-50,0.073)(-45,0.073)(-40,0.072)(-35,0.071)(-30,0.07)(-25,0.068)(-20,0.066)(-15,0.063)(-10,0.06)(-5,0.057)(0,0.053)(5,0.049)(10,0.045)(15,0.041)(20,0.037)(25,0.033)(30,0.03)(35,0.026)(40,0.023)(45,0.02)(50,0.017)(55,0.014)(60,0.012)(65,0.01)(70,0.009)(75,0.007)(80,0.006)(85,0.005)(90,0.004)(95,0.003)(100,0.003)(105,0.002)(110,0.002)(115,0.001)(120,0.001)(125,0.001)(130,0.001)};
\addlegendentry{2x10\textsuperscript{-1} mM}
\addlegendimage{dia}
\addlegendentry{1 mM}
\end{axis}

% ---------------- G left ----------------
\begin{axis}[base, xmode=log, at={(35pt,-450.5pt)}, anchor=south west,
  width=155.3pt, height=87pt, xmin=3.334e-5, xmax=2, ymin=17, ymax=37.9,
  x axis line style={-, shorten <=5.5pt},
  xtick={1e-4,1e-3,1e-2,1e-1,1},
  xticklabels={10\textsuperscript{-4},10\textsuperscript{-3},10\textsuperscript{-2},10\textsuperscript{-1},10\textsuperscript{0}},
  minor xtick={5e-5,6e-5,7e-5,8e-5,9e-5,2e-4,3e-4,4e-4,5e-4,6e-4,7e-4,8e-4,9e-4,2e-3,3e-3,4e-3,5e-3,6e-3,7e-3,8e-3,9e-3,2e-2,3e-2,4e-2,5e-2,6e-2,7e-2,8e-2,9e-2,0.2,0.3,0.4,0.5,0.6,0.7,0.8,0.9,2},
  ytick={20,25,30,35}, minor y tick num=4,
  yticklabel style={xshift=-6pt}, xticklabel style={yshift=-4pt},
  legend cell align=left,
  legend image code/.code={\draw[mark repeat=2, mark phase=2, #1] plot coordinates {(0pt,0pt) (10.75pt,0pt) (21.5pt,0pt)};},
  legend style={draw=none, fill=none, at={(0.441,1.155)}, anchor=north west, inner sep=0pt, row sep=0pt,
    font=\fontsize{9}{10}\selectfont, nodes={inner sep=1pt, text height=6pt, text depth=2pt}}]
\addplot[black, line width=0.5pt, mark=*, mark size=2.8pt, mark options={fill=white, draw=black, line width=0.5pt},
  error bars/.cd, y dir=both, y explicit, error bar style={black!75, line width=0.5pt},
  error mark options={rotate=90, mark size=5.5pt, black!75, line width=0.5pt}]
  coordinates {(1e-4,30.0) +- (0,3.1) (1e-3,32.5) +- (0,5.1) (1e-2,29.8) +- (0,2.3) (1e-1,28.0) +- (0,3.6) (0.2,29.4) +- (0,5.6) (1,29.1) +- (0,4.5)};
\addlegendentry{eM 140 mM Cl\textsuperscript{-}}
\addplot[black, line width=1pt, mark=*, mark size=2.8pt, mark options={fill=black, draw=black, line width=0.5pt},
  error bars/.cd, y dir=both, y explicit, error bar style={black, line width=0.5pt},
  error mark options={rotate=90, mark size=5.5pt, black, line width=0.5pt}]
  coordinates {(1e-4,30.9) +- (0,1.9) (1e-3,30.4) +- (0,1.7) (1e-2,30.8) +- (0,1.5) (1e-1,30.9) +- (0,2.5) (0.2,32.3) +- (0,2.9) (1,29.2) +- (0,0.6)};
\addlegendentry{NLC 140 mM Cl\textsuperscript{-}}
\end{axis}

% ---------------- G right ----------------
\begin{axis}[base, xmode=log, at={(223pt,-450pt)}, anchor=south west,
  width=153.4pt, height=87.5pt, xmin=2.466e-5, xmax=2, ymin=16.8, ymax=38,
  x axis line style={-, shorten <=9pt},
  xtick={1e-4,1e-3,1e-2,1e-1,1},
  xticklabels={10\textsuperscript{-4},10\textsuperscript{-3},10\textsuperscript{-2},10\textsuperscript{-1},10\textsuperscript{0}},
  minor xtick={5e-5,6e-5,7e-5,8e-5,9e-5,2e-4,3e-4,4e-4,5e-4,6e-4,7e-4,8e-4,9e-4,2e-3,3e-3,4e-3,5e-3,6e-3,7e-3,8e-3,9e-3,2e-2,3e-2,4e-2,5e-2,6e-2,7e-2,8e-2,9e-2,0.2,0.3,0.4,0.5,0.6,0.7,0.8,0.9,2},
  ytick={20,25,30,35}, minor y tick num=4,
  yticklabel style={xshift=-1pt}, xticklabel style={yshift=-4pt},
  legend cell align=left,
  legend image code/.code={\draw[mark repeat=2, mark phase=2, #1] plot coordinates {(0pt,0pt) (7.75pt,0pt) (15.5pt,0pt)};},
  legend style={draw=none, fill=none, at={(0.525,1.131)}, anchor=north west, inner sep=0pt, row sep=0pt,
    font=\fontsize{9}{10}\selectfont, nodes={inner sep=1pt, text height=6pt, text depth=2pt}}]
\addplot[black, line width=0.5pt, mark=square*, mark size=2.5pt, mark options={fill=white, draw=black, line width=0.5pt},
  error bars/.cd, y dir=both, y explicit, error bar style={black, line width=0.5pt},
  error mark options={rotate=90, mark size=4.5pt, black, line width=0.5pt}]
  coordinates {(1e-4,28.4) +- (0,0.3) (1e-3,28.4) +- (0,5.4) (1e-2,29.7) +- (0,4.1) (0.05,26.3) +- (0,1.0) (0.1,26.3) +- (0,5.0) (0.2,20.7) +- (0,2.2)};
\addlegendentry{eM 5 mM Cl\textsuperscript{-}}
\addplot[black, line width=1pt, mark=square*, mark size=2.5pt, mark options={fill=black, draw=black, line width=0.5pt},
  error bars/.cd, y dir=both, y explicit, error bar style={black, line width=0.5pt},
  error mark options={rotate=90, mark size=4.5pt, black, line width=0.5pt}]
  coordinates {(1e-4,30.3) +- (0,0.8) (1e-3,30.5) +- (0,2.1) (1e-2,31.5) +- (0,1.8) (0.05,31.45) +- (0,0.3) (0.1,28.9) +- (0,2.3) (0.2,27.4) +- (0,3.4)};
\addlegendentry{NLC 5 mM Cl\textsuperscript{-}}
\end{axis}

% ---------------- texts ----------------
\begin{scope}[every node/.style={inner sep=0pt}]
\node[anchor=west, font=\fontsize{11.3}{13}\selectfont] at (1pt,-6pt) {A.};
\node[anchor=west, font=\fontsize{11.3}{13}\selectfont] at (193.5pt,-6.3pt) {B.};
\node[anchor=west, font=\fontsize{11.3}{13}\selectfont] at (1pt,-135pt) {C.};
\node[anchor=west, font=\fontsize{11.3}{13}\selectfont] at (193.5pt,-139pt) {D.};
\node[anchor=west, font=\fontsize{11.3}{13}\selectfont] at (1pt,-242.5pt) {E.};
\node[anchor=west, font=\fontsize{11.3}{13}\selectfont] at (193.5pt,-242.5pt) {F.};
\node[anchor=west, font=\fontsize{11.3}{13}\selectfont] at (1pt,-351.5pt) {G.};
\node[font=\fontsize{12.5}{14}\selectfont] at (111.5pt,-11.5pt) {140 mM Cl\textsuperscript{-}};
\node[font=\fontsize{12.5}{14}\selectfont] at (299pt,-11.5pt) {5 mM Cl\textsuperscript{-}};
\node[rotate=90, font=\fontsize{10}{12}\selectfont] at (6.5pt,-58pt) {C / pF};
\node[rotate=90, font=\fontsize{10}{12}\selectfont] at (6pt,-180pt) {OHC length / µm};
\node[rotate=90, font=\fontsize{10}{12}\selectfont] at (6.5pt,-268.5pt) {q / pC};
\node[font=\fontsize{9.6}{11}\selectfont] at (109.5pt,-338.5pt) {Holding potential / mV};
\node[font=\fontsize{9.6}{11}\selectfont] at (299pt,-338.5pt) {Holding potential / mV};
\node[rotate=90, font=\fontsize{10}{12}\selectfont] at (10pt,-406.5pt) {Voltage sensitivity / V\textsuperscript{-1}};
\node[rotate=90, font=\fontsize{10}{12}\selectfont] at (202.5pt,-404pt) {Voltage sensitivity / V\textsuperscript{-1}};
\node[font=\fontsize{9.6}{11}\selectfont] at (118.5pt,-472pt) {[DFL] / mM};
\node[font=\fontsize{9.6}{11}\selectfont] at (312.5pt,-471.5pt) {[DFL] / mM};
\end{scope}
\end{tikzpicture}
\end{document}
